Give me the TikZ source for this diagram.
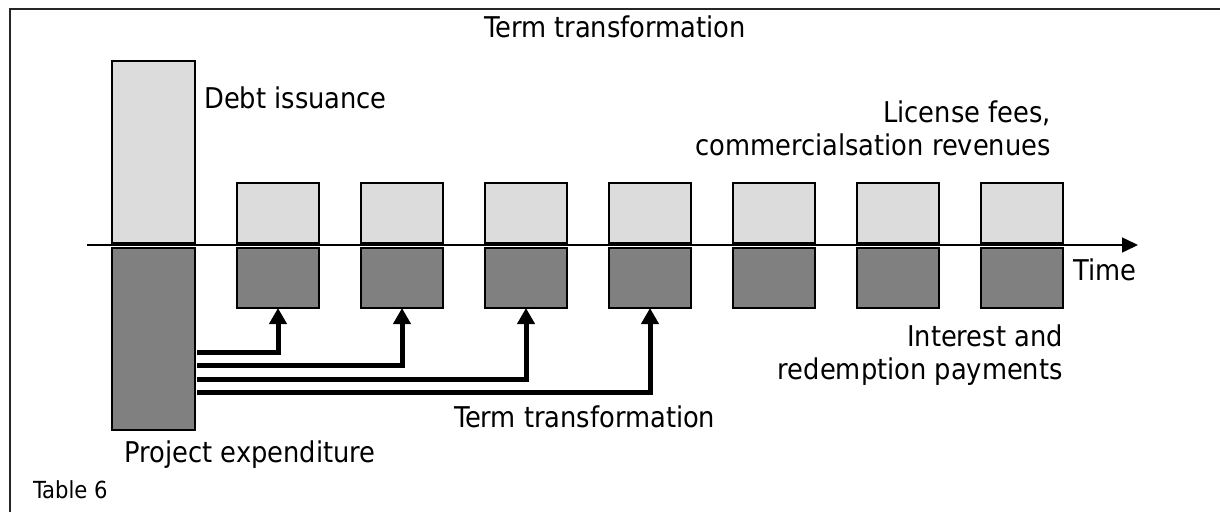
\documentclass[tikz,border=0pt]{standalone}
\usepackage{fontspec}
\setmainfont{DejaVu Sans Condensed}
\usetikzlibrary{arrows.meta}
\definecolor{lightbar}{HTML}{DCDCDC}
\definecolor{darkbar}{HTML}{808080}
\begin{document}
\begin{tikzpicture}[x=1pt,y=-1pt,
  lbl/.style={inner sep=0pt, font=\fontsize{28.6}{33.5}\selectfont},
  small/.style={inner sep=0pt, font=\fontsize{23.5}{27}\selectfont},
  bar/.style={draw=black, line width=1.5pt, inner sep=0pt, outer sep=0pt, anchor=north west},
  inflow/.style={bar, fill=lightbar},
  outflow/.style={bar, fill=darkbar},
  period/.style={minimum width=82pt, minimum height=60pt},
  tall/.style={minimum width=83pt, minimum height=182pt},
  transfer/.style={line width=5pt, -{Triangle[width=17pt,length=16pt]}},
  axis/.style={line width=1.5pt, -{Triangle[width=15pt,length=16pt]}},
]
\useasboundingbox (0,0) rectangle (1220,512);

% frame
\draw[line width=1.5pt, draw=black!85] (10,512) -- (10,9) -- (1220,9);

% initial debt issuance and project expenditure
\node[inflow, tall] (debt) at (112,61) {};
\node[outflow, tall] (proj) at (112,248) {};

% periodic revenues and payments
\foreach \i in {1,...,7} {
  \node[inflow, period] (in\i) at ({237+124*(\i-1)},183) {};
  \node[outflow, period] (out\i) at ({237+124*(\i-1)},248) {};
}

% time axis
\coordinate (t0) at (87,245);
\coordinate (t1) at (1138,245);
\draw[axis] (t0) -- (t1);

% term transformation arrows
\coordinate (s1) at (197,352);
\coordinate (s2) at (197,365.5);
\coordinate (s3) at (197,379);
\coordinate (s4) at (197,392.5);
\draw[transfer] (s1) -| (out1.south);
\draw[transfer] (s2) -| (out2.south);
\draw[transfer] (s3) -| (out3.south);
\draw[transfer] (s4) -| (out4.south);

% labels
\node[lbl] (title) at (615,27) {Term transformation};
\node[lbl, anchor=west] (debtlbl) at (204,98) {Debt issuance};
\node[lbl, anchor=east, align=right] (revlbl) at (1051,128.5) {License fees,\\commercialsation revenues};
\node[lbl, anchor=west] (timelbl) at (1073,270) {Time};
\node[lbl, anchor=east, align=right] (paylbl) at (1063,355) {Interest and\\redemption payments};
\node[lbl, anchor=west] (termlbl) at (454,417) {Term transformation};
\node[lbl] (projlbl) at (250,455) {Project expenditure};
\node[small, anchor=west] (tablbl) at (33,490) {Table 6};
\end{tikzpicture}
\end{document}
